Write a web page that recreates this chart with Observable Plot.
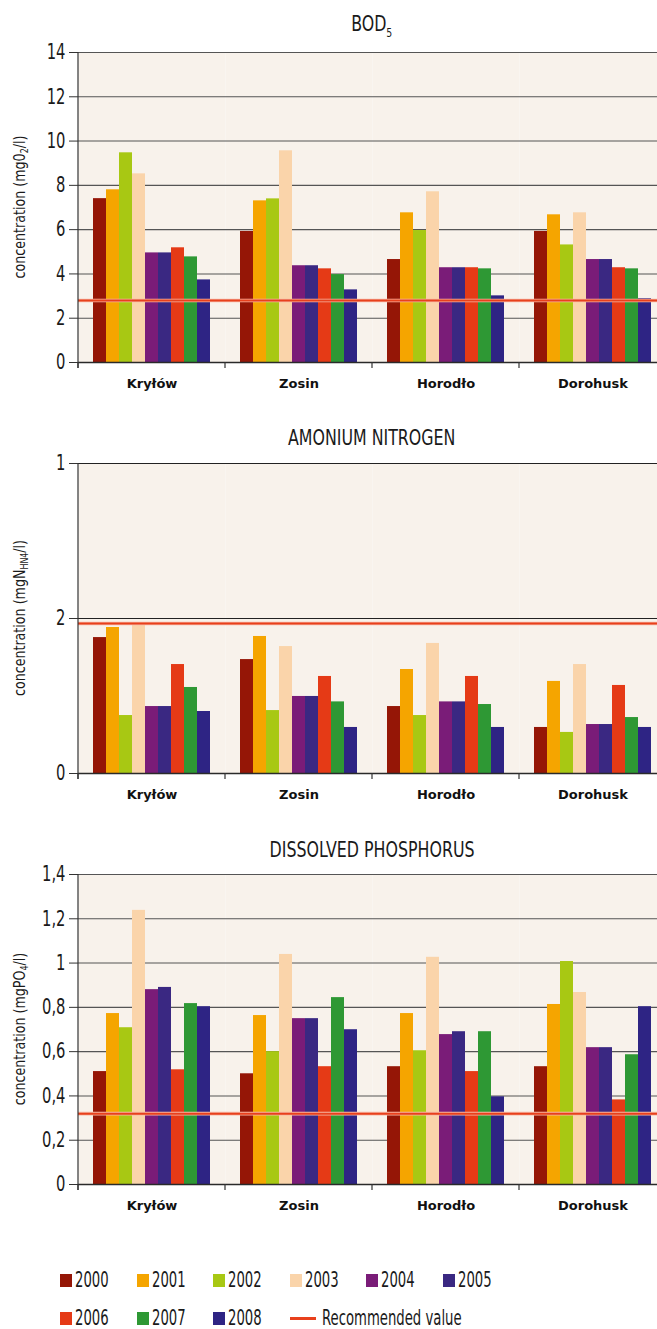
<!DOCTYPE html>
<html><head><meta charset="utf-8">
<script src="https://cdn.jsdelivr.net/npm/d3@7"></script>
<script src="https://cdn.jsdelivr.net/npm/@observablehq/plot@0.6"></script>
<style>
html,body{margin:0;padding:0;background:#fff;}
body{width:657px;height:1329px;overflow:hidden;position:relative;font-family:"DejaVu Sans Condensed",sans-serif;color:#1a1a1a;}
.title{position:absolute;left:78px;width:588px;text-align:center;font-size:22px;line-height:24px;height:24px;}
.title span{display:inline-block;transform:scaleX(0.8);transform-origin:center;}
.title sub{font-size:13px;vertical-align:-6px;line-height:0;}
.panel{position:absolute;left:0;width:666px;height:362px;}
.panel svg{max-width:none !important;width:666px !important;height:362px !important;}
.legend{position:absolute;left:60px;top:1261px;display:grid;grid-template-columns:repeat(6,76.5px);grid-auto-rows:38px;font-size:21px;}
.item{display:flex;align-items:center;white-space:nowrap;}
.item .tx{display:inline-block;transform:scaleX(0.7);transform-origin:left center;}
.sw{width:12px;height:13px;margin-right:3px;flex:none;}
.ln{width:26px;height:3px;margin-right:6px;flex:none;}
.wide{grid-column:span 3;}
</style></head><body>
<div class="title" style="top:12px"><span>BOD<sub>5</sub></span></div>
<div class="title" style="top:426px"><span>AMONIUM NITROGEN</span></div>
<div class="title" style="top:838px"><span>DISSOLVED PHOSPHORUS</span></div>
<div class="panel" id="p1" style="top:40px"></div>
<div class="panel" id="p2" style="top:451px"></div>
<div class="panel" id="p3" style="top:862px"></div>
<div class="legend" id="legend"></div>
<script>
const sites = ["Kryłów", "Zosin", "Horodło", "Dorohusk"];
const years = ["2000", "2001", "2002", "2003", "2004", "2005", "2006", "2007", "2008"];
const yearColors = ["#951606", "#F5A500", "#A8C813", "#FAD4AA", "#7A1C78", "#3A2882", "#E53A16", "#2E9834", "#2E2484"];
const recommendedColor = "#E8401C";
const recommendedLabel = "Recommended value";

// BOD5 (mgO2/l), rows = sites, columns = years
const bodValues = [
  [7.40, 7.80, 9.47, 8.52, 4.95, 4.95, 5.18, 4.77, 3.73],
  [5.92, 7.30, 7.39, 9.56, 4.37, 4.37, 4.23, 3.97, 3.28],
  [4.65, 6.76, 5.96, 7.71, 4.28, 4.28, 4.28, 4.23, 3.01],
  [5.92, 6.67, 5.31, 6.76, 4.65, 4.65, 4.28, 4.23, 2.88]
];
const bodRecommended = 2.8;
const bodTicks = [0, 2, 4, 6, 8, 10, 12, 14];
const bodTickLabels = ["0", "2", "4", "6", "8", "10", "12", "14"];

// Ammonium nitrogen (axis as printed)
const ammoniumValues = [
  [0.877, 0.942, 0.374, 0.959, 0.432, 0.432, 0.703, 0.555, 0.400],
  [0.735, 0.884, 0.406, 0.819, 0.497, 0.497, 0.626, 0.462, 0.297],
  [0.432, 0.671, 0.374, 0.839, 0.462, 0.462, 0.626, 0.445, 0.297],
  [0.297, 0.594, 0.265, 0.703, 0.316, 0.316, 0.568, 0.361, 0.297]
];
const ammoniumRecommended = 0.968;
const ammoniumTicks = [0, 1, 2];
const ammoniumTickLabels = ["0", "2", "1"];

// Dissolved phosphorus (mgPO4/l)
const phosphorusValues = [
  [0.510, 0.772, 0.708, 1.238, 0.880, 0.890, 0.518, 0.817, 0.803],
  [0.500, 0.763, 0.600, 1.039, 0.749, 0.749, 0.532, 0.844, 0.699],
  [0.532, 0.772, 0.604, 1.026, 0.677, 0.690, 0.510, 0.690, 0.396],
  [0.532, 0.813, 1.007, 0.867, 0.618, 0.618, 0.382, 0.586, 0.803]
];
const phosphorusRecommended = 0.32;
const phosphorusTicks = [0, 0.2, 0.4, 0.6, 0.8, 1, 1.2, 1.4];
const phosphorusTickLabels = ["0", "0,2", "0,4", "0,6", "0,8", "1", "1,2", "1,4"];

const NARROW = '"DejaVu Sans Condensed",sans-serif';

function panel(el, values, recommended, ticks, tickLabels, gridColor, labelParts) {
  const data = [];
  sites.forEach((s, i) => years.forEach((y, j) => data.push({site: s, year: y, value: values[i][j]})));
  const domain = [ticks[0], ticks[ticks.length - 1]];
  const plot = Plot.plot({
    width: 666, height: 362,
    marginLeft: 78, marginRight: 0, marginTop: 12, marginBottom: 40,
    style: {background: "transparent", fontFamily: NARROW, fontSize: "20px", color: "#1a1a1a", overflow: "visible", maxWidth: "none"},
    fx: {domain: sites, padding: 0, label: null},
    x: {domain: years, paddingInner: 0, paddingOuter: 0.97, axis: null},
    y: {domain, range: [322, 12], label: null},
    color: {domain: years, range: yearColors},
    marks: [
      Plot.frame({fill: "#F8F2EB", stroke: null}),
      Plot.ruleY(ticks, {stroke: gridColor, strokeWidth: 1.1}),
      Plot.barY(data, {fx: "site", x: "year", y: "value", fill: "year"}),
      Plot.ruleY([recommended], {stroke: "#F6B7A4", strokeWidth: 3.6}),
      Plot.ruleY([recommended], {stroke: recommendedColor, strokeWidth: 2}),
      Plot.ruleY([domain[0]], {stroke: "#2a2a2a", strokeWidth: 1.6}),
      Plot.axisY({ticks, tickFormat: d => tickLabels[ticks.indexOf(d)], tickSize: 9, tickPadding: 4, label: null, fontSize: 21, fontFamily: NARROW, stroke: "#333", fill: "#1a1a1a"}),
      Plot.axisFx({anchor: "bottom", tickSize: 0, tickPadding: 16, label: null, fontSize: 13, fontFamily: "DejaVu Sans", fontWeight: "bold", fill: "#111"})
    ]
  });
  const svg = d3.select(plot);
  // condensed look for y tick labels
  svg.selectAll('g[aria-label="y-axis tick label"] text').attr("transform", function () {
    return (this.getAttribute("transform") || "") + " scale(0.78,1)";
  });
  const fx = plot.scale("fx");
  const ys = plot.scale("y");
  const y0 = ys.apply(domain[0]), y1 = ys.apply(domain[1]);
  const bounds = sites.map(s => fx.apply(s)).concat([fx.apply(sites[sites.length - 1]) + fx.bandwidth]);
  const g = svg.append("g").attr("stroke", "#333").attr("stroke-width", 1.2);
  g.append("line").attr("x1", bounds[0]).attr("x2", bounds[0]).attr("y1", y1).attr("y2", y0 + 6);
  bounds.forEach(b => g.append("line").attr("x1", b).attr("x2", b).attr("y1", y0).attr("y2", y0 + 6));
  // rotated axis title with subscript
  const t = svg.append("text")
    .attr("transform", `translate(25,${(y0 + y1) / 2}) rotate(-90) scale(0.88,1)`)
    .attr("text-anchor", "middle")
    .attr("font-family", NARROW).attr("font-size", 16).attr("fill", "#1a1a1a");
  let prevSub = false;
  labelParts.forEach(([txt, sub]) => {
    if (sub) t.append("tspan").attr("font-size", 10).attr("dy", 3).text(txt);
    else t.append("tspan").attr("dy", prevSub ? -3 : 0).text(txt);
    prevSub = !!sub;
  });
  document.getElementById(el).append(plot);
}

panel("p1", bodValues, bodRecommended, bodTicks, bodTickLabels, "#555",
  [["concentration (mg0"], ["2", true], ["/l)"]]);
panel("p2", ammoniumValues, ammoniumRecommended, ammoniumTicks, ammoniumTickLabels, "#222",
  [["concentration (mgN"], ["HN4", true], ["/l)"]]);
panel("p3", phosphorusValues, phosphorusRecommended, phosphorusTicks, phosphorusTickLabels, "#555",
  [["concentration (mgPO"], ["4", true], ["/l)"]]);

// legend
const legend = d3.select("#legend");
years.forEach((y, i) => {
  const it = legend.append("div").attr("class", "item");
  it.append("span").attr("class", "sw").style("background", yearColors[i]);
  it.append("span").attr("class", "tx").text(y);
});
const rec = legend.append("div").attr("class", "item wide");
rec.append("span").attr("class", "ln").style("background", recommendedColor);
rec.append("span").attr("class", "tx").text(recommendedLabel);
</script>
</body></html>
